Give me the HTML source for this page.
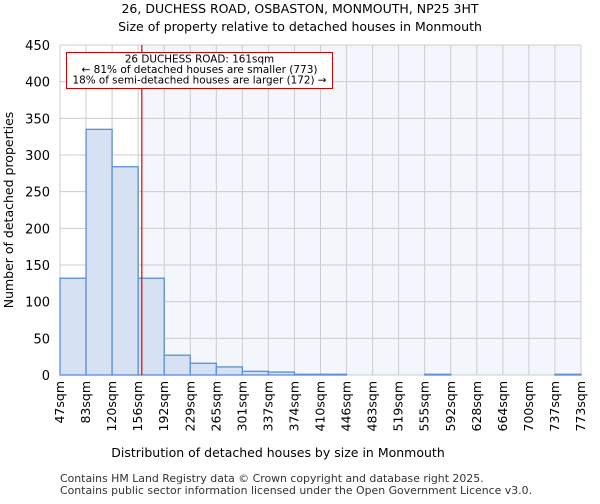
<!DOCTYPE html>
<html><head><meta charset="utf-8"><style>
body{margin:0;background:#fff;font-family:"DejaVu Sans","Liberation Sans",sans-serif;}
</style></head><body>
<svg width="600" height="500" xmlns="http://www.w3.org/2000/svg" font-family="DejaVu Sans, Liberation Sans, sans-serif">
<text x="300" y="13" text-anchor="middle" font-size="12.5">26, DUCHESS ROAD, OSBASTON, MONMOUTH, NP25 3HT</text>
<text x="300" y="31" text-anchor="middle" font-size="12.5">Size of property relative to detached houses in Monmouth</text>
<g id="plot"></g>
<text x="278" y="457" text-anchor="middle" font-size="12.5">Distribution of detached houses by size in Monmouth</text>
<text transform="translate(13,210) rotate(-90)" text-anchor="middle" font-size="12.5">Number of detached properties</text>
<text x="60" y="482" font-size="10.9" fill="#333">Contains HM Land Registry data © Crown copyright and database right 2025.</text>
<text x="60" y="494" font-size="10.9" fill="#333">Contains public sector information licensed under the Open Government Licence v3.0.</text>
</svg>
<script>
const categories=["47sqm","83sqm","120sqm","156sqm","192sqm","229sqm","265sqm","301sqm","337sqm","374sqm","410sqm","446sqm","483sqm","519sqm","555sqm","592sqm","628sqm","664sqm","700sqm","737sqm","773sqm"];
const counts=[132,335,284,132,27,16,11,5,4,1,1,0,0,0,1,0,0,0,0,1];
const yTicks=[0,50,100,150,200,250,300,350,400,450];
const propertySize=161;
const binEdges=[47,83.3,119.6,155.9,192.2,228.5,264.8,301.1,337.4,373.7,410,446.3,482.6,518.9,555.2,591.5,627.8,664.1,700.4,736.7,773];
const NS="http://www.w3.org/2000/svg";
const g=document.getElementById('plot');
const L=60,R=581,T=45,B=375;
const x=v=>L+(v-47)/(773-47)*(R-L);
const y=v=>B-v/450*(B-T);
function mk(t,a){const e=document.createElementNS(NS,t);for(const k in a)e.setAttribute(k,a[k]);g.appendChild(e);return e;}
const px=x(propertySize);
let e=mk('rect',{x:px,y:T,width:R-px,height:B-T,fill:'#f3f6fd'});


yTicks.forEach(v=>{
 let l=mk('line',{x1:L,x2:R,y1:y(v),y2:y(v),stroke:'#ccc'});
 
 
 let t=mk('text',{x:L-10,y:y(v)+5,'text-anchor':'end','font-size':13});
 t.textContent=v;
 
 
});
binEdges.forEach((b,i)=>{
 let l=mk('line',{x1:x(b),x2:x(b),y1:T,y2:B,stroke:'#ccc'});
 
 
 let t=mk('text',{transform:`translate(${x(b)+4},381) rotate(-90)`,'text-anchor':'end','font-size':12.5});
 t.textContent=categories[i];
 
 
});
counts.forEach((c,i)=>{
 const x0=x(binEdges[i]),x1=x(binEdges[i+1]);
 let r=mk('rect',{x:x0,y:y(c),width:x1-x0,height:B-y(c),fill:'#d6e2f3',stroke:'#5b8fd6','stroke-width':1.3});
 
 
});
e=mk('line',{x1:px,x2:px,y1:T,y2:B,stroke:'#d00','stroke-width':1.2});


e=mk('rect',{x:66.5,y:52.5,width:266,height:36,fill:'#fff',stroke:'#c00'});


["26 DUCHESS ROAD: 161sqm","← 81% of detached houses are smaller (773)","18% of semi-detached houses are larger (172) →"].forEach((s,i)=>{
 let t=mk('text',{x:199.5,y:62.5+i*10.5,'text-anchor':'middle','font-size':10.4,textLength:i==2?254:(i==1?236:0),lengthAdjust:'spacingAndGlyphs'});
 if(i==0)t.removeAttribute('textLength');
 t.textContent=s;
 
 
});
</script>
</body></html>
